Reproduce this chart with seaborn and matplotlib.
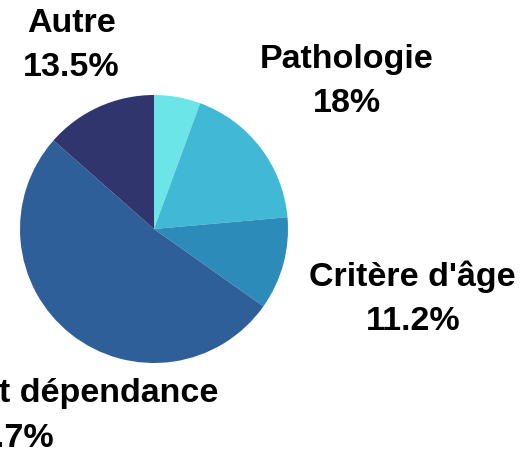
import numpy as np
import matplotlib
matplotlib.use("Agg")
import matplotlib.pyplot as plt
import seaborn as sns

categories = ["", "Pathologie", "Critère d'âge", "Autonomie et dépendance", "Autre"]
values = [5.6, 18.0, 11.2, 51.7, 13.5]
pct_labels = ["", "18%", "11.2%", "51.7%", "13.5%"]
colors = ["#6ce5e8", "#41b8d5", "#2d8bba", "#2f5f98", "#31356e"]

sns.set_theme(style="white")
plt.rcParams['font.family'] = ['Liberation Sans', 'DejaVu Sans']

W, H = 523, 457
cx, cy, R = 154, 229, 134
fig = plt.figure(figsize=(W / 100, H / 100), dpi=100)
ax = fig.add_axes([0, 0, 1, 1])
wedges, _ = ax.pie(values, colors=colors, startangle=90, counterclock=False,
                   radius=1, labels=None, wedgeprops=dict(linewidth=0))
ax.set_aspect('equal', adjustable='box')
ax.set_xlim(-cx / R, (W - cx) / R)
ax.set_ylim(-(H - cy) / R, cy / R)
ax.axis('off')

dists = [None, 1.81, 2.0, 1.78, 1.50]
for w, name, pct, d in zip(wedges, categories, pct_labels, dists):
    if d is None:
        continue
    mid = np.deg2rad((w.theta1 + w.theta2) / 2)
    ax.text(d * np.cos(mid), d * np.sin(mid), f"{name}\n{pct}",
            ha='center', va='center', fontsize=24.5, fontweight='bold',
            linespacing=1.55, color='black')

fig.savefig("out.png", dpi=100)
